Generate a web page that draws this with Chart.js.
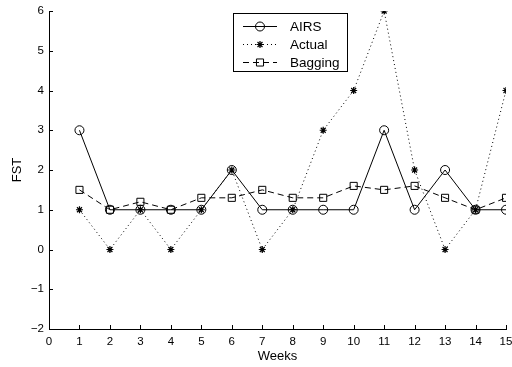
<!DOCTYPE html>
<html>
<head>
<meta charset="utf-8">
<script src="https://cdn.jsdelivr.net/npm/chart.js@4"></script>
<style>
  html, body { margin: 0; padding: 0; background: #fff; }
  #wrap { width: 512px; height: 367px; position: relative; }
</style>
</head>
<body>
<div id="wrap"><canvas id="c" width="512" height="367"></canvas></div>
<script>
// Weekly FST values
const weeks = [1, 2, 3, 4, 5, 6, 7, 8, 9, 10, 11, 12, 13, 14, 15];
const airs = [3, 1, 1, 1, 1, 2, 1, 1, 1, 1, 3, 1, 2, 1, 1];
const actual = [1, 0, 1, 0, 1, 2, 0, 1, 3, 4, 6, 2, 0, 1, 4];
const bagging = [1.5, 1, 1.2, 1, 1.3, 1.3, 1.5, 1.3, 1.3, 1.6, 1.5, 1.6, 1.3, 1, 1.3];
const xTicks = [0, 1, 2, 3, 4, 5, 6, 7, 8, 9, 10, 11, 12, 13, 14, 15];
const yTicks = [-2, -1, 0, 1, 2, 3, 4, 5, 6];

const FONT = '"Liberation Sans", Arial, Helvetica, sans-serif';

function pts(vals) { return weeks.map((w, i) => ({ x: w, y: vals[i] })); }

// Inward tick marks, MATLAB style
const innerTicks = {
  id: 'innerTicks',
  afterDraw(chart) {
    const { ctx, scales: { x, y }, chartArea } = chart;
    ctx.save();
    ctx.strokeStyle = '#000';
    ctx.lineWidth = 1;
    ctx.beginPath();
    xTicks.forEach(v => {
      const px = Math.round(x.getPixelForValue(v)) + 0.5;
      ctx.moveTo(px, chartArea.bottom);
      ctx.lineTo(px, chartArea.bottom - 4);
    });
    yTicks.forEach(v => {
      const py = Math.round(y.getPixelForValue(v)) + 0.5;
      ctx.moveTo(chartArea.left, py);
      ctx.lineTo(chartArea.left + 4, py);
    });
    ctx.stroke();
    ctx.restore();
  }
};

// Boxed legend with line sample and marker
const boxLegend = {
  id: 'boxLegend',
  afterDraw(chart) {
    const ctx = chart.ctx;
    const bx = 233.5, by = 13.5, bw = 114, bh = 58;
    ctx.save();
    ctx.fillStyle = '#fff';
    ctx.fillRect(bx, by, bw, bh);
    ctx.strokeStyle = '#000';
    ctx.lineWidth = 1;
    ctx.strokeRect(bx, by, bw, bh);
    const rows = [26, 44, 62];
    chart.data.datasets.forEach((ds, i) => {
      const yy = rows[i] + 0.5;
      ctx.save();
      ctx.strokeStyle = '#000';
      ctx.lineWidth = 1;
      ctx.setLineDash(ds.borderDash || []);
      ctx.beginPath();
      ctx.moveTo(243, yy);
      ctx.lineTo(277, yy);
      ctx.stroke();
      ctx.restore();
      ctx.save();
      ctx.strokeStyle = '#000';
      ctx.fillStyle = ds.pointBackgroundColor;
      ctx.lineWidth = ds.pointBorderWidth;
      Chart.helpers.drawPoint(ctx, {
        pointStyle: ds.pointStyle,
        radius: ds.pointRadius,
        borderWidth: ds.pointBorderWidth
      }, 260, yy);
      ctx.restore();
      ctx.fillStyle = '#000';
      ctx.font = '13.5px ' + FONT;
      ctx.textBaseline = 'middle';
      ctx.textAlign = 'left';
      ctx.fillText(ds.label, 290, rows[i] + 1);
    });
    ctx.restore();
  }
};

new Chart(document.getElementById('c'), {
  type: 'line',
  data: {
    datasets: [
      {
        label: 'AIRS', data: pts(airs),
        borderColor: '#000', borderWidth: 1, backgroundColor: 'rgba(0,0,0,0)',
        pointStyle: 'circle', pointRadius: 4.5, pointBorderColor: '#000',
        pointBackgroundColor: 'rgba(0,0,0,0)', pointBorderWidth: 1
      },
      {
        label: 'Actual', data: pts(actual),
        borderColor: '#000', borderWidth: 1, borderDash: [1, 3],
        backgroundColor: 'rgba(0,0,0,0)',
        pointStyle: 'star', pointRadius: 3.5, pointBorderColor: '#000',
        pointBackgroundColor: '#000', pointBorderWidth: 1.2
      },
      {
        label: 'Bagging', data: pts(bagging),
        borderColor: '#000', borderWidth: 1, borderDash: [6, 4],
        backgroundColor: 'rgba(0,0,0,0)',
        pointStyle: 'rect', pointRadius: 5, pointBorderColor: '#000',
        pointBackgroundColor: 'rgba(0,0,0,0)', pointBorderWidth: 1
      }
    ]
  },
  options: {
    responsive: false,
    animation: false,
    events: [],
    layout: { padding: { top: 11, right: 6, left: 0, bottom: 0 } },
    plugins: { legend: { display: false }, tooltip: { enabled: false } },
    scales: {
      x: {
        type: 'linear', min: 0, max: 15,
        afterFit(s) { s.height = 38; s.paddingLeft = 0; s.paddingRight = 0; },
        afterBuildTicks(s) { s.ticks = xTicks.map(v => ({ value: v })); },
        grid: { display: true, drawOnChartArea: false, drawTicks: false },
        border: { display: true, color: '#000', width: 1 },
        ticks: { color: '#000', font: { family: FONT, size: 11.5 }, padding: 6, maxRotation: 0, autoSkip: false },
        title: { display: true, text: 'Weeks', color: '#000', font: { family: FONT, size: 13 }, padding: { top: 0, bottom: 3 } }
      },
      y: {
        type: 'linear', min: -2, max: 6,
        afterFit(s) { s.width = 49; s.paddingTop = 0; s.paddingBottom = 0; },
        afterBuildTicks(s) { s.ticks = yTicks.map(v => ({ value: v })); },
        grid: { display: true, drawOnChartArea: false, drawTicks: false },
        border: { display: true, color: '#000', width: 1 },
        ticks: {
          color: '#000', font: { family: FONT, size: 11.5 }, padding: 5,
          callback: v => (v < 0 ? '\u2212' + Math.abs(v) : String(v))
        },
        title: { display: true, text: 'FST', color: '#000', font: { family: FONT, size: 13 }, padding: { top: 10, bottom: 0 } }
      }
    }
  },
  plugins: [innerTicks, boxLegend]
});
</script>
</body>
</html>
